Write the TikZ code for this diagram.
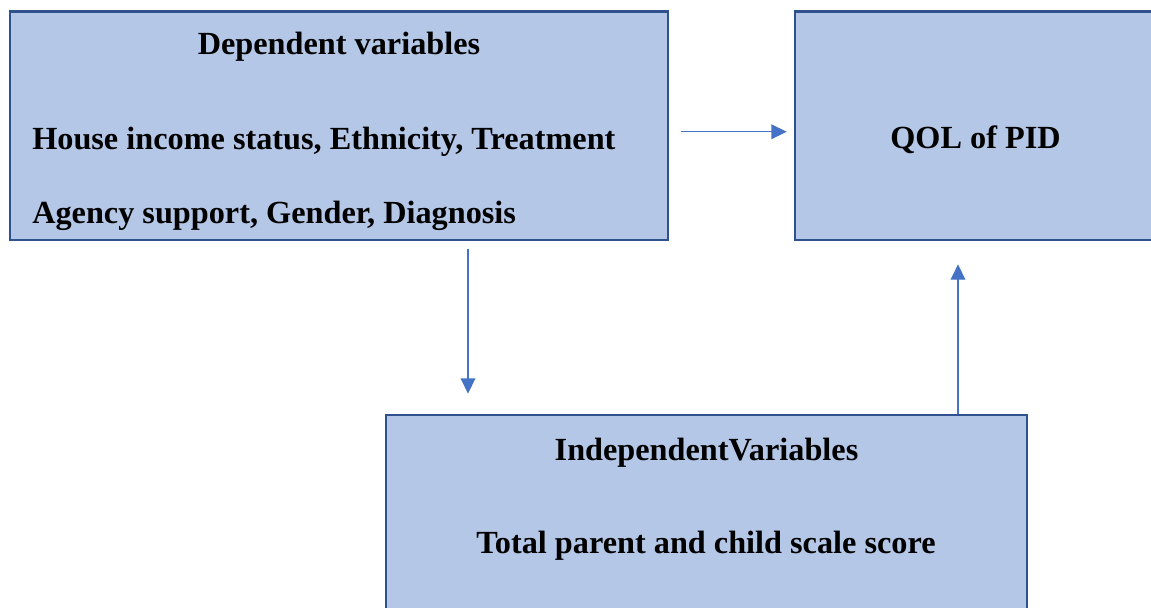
\documentclass[tikz,border=0pt]{standalone}
\usepackage{fontspec}
\setmainfont{Liberation Serif}
\usetikzlibrary{arrows.meta,fit}
\definecolor{boxfill}{HTML}{B4C7E7}
\definecolor{boxline}{HTML}{2F528F}
\definecolor{arrline}{HTML}{4472C4}
\begin{document}
\begin{tikzpicture}[x=0.75pt,y=-0.75pt,
  box/.style={draw=boxline,fill=boxfill,line width=2pt,inner sep=0pt,rectangle},
  lbl/.style={inner sep=0pt,font=\fontsize{24.2}{29}\selectfont\bfseries,text=black},
  arr/.style={draw=arrline,line width=1pt,-{Triangle[length=11.5pt,width=11pt]}}]
\useasboundingbox (0,0) rectangle (1151,607);
\node[box,fit={(10,11.5)(668,240)}] (A) {};
\node[box,fit={(795,11.5)(1165,240)}] (B) {};
\node[box,fit={(386,415)(1027,625)}] (C) {};
\node[lbl,anchor=base] (t1) at (339,54) {Dependent variables};
\node[lbl,anchor=base west] (t2) at (32,149) {House income status, Ethnicity, Treatment};
\node[lbl,anchor=base west] (t3) at (32,223) {Agency support, Gender, Diagnosis};
\node[lbl,anchor=base] (t4) at (975.5,148) {QOL of PID};
\node[lbl,anchor=base] (t5) at (706.5,460) {IndependentVariables};
\node[lbl,anchor=base] (t6) at (706,553) {Total parent and child scale score};
\draw[arr,shorten <=9pt,shorten >=5.25pt] ([yshift=-4.5pt]A.east) -- ([yshift=-4.5pt]B.west);
\draw[arr,shorten <=6pt,shorten >=15pt] ([xshift=96.75pt]A.south) -- ([xshift=96.75pt]A.south |- C.north);
\draw[arr,shorten >=17.25pt] ([xshift=188.625pt]C.north) -- ([xshift=188.625pt]C.north |- B.south);
\end{tikzpicture}
\end{document}
